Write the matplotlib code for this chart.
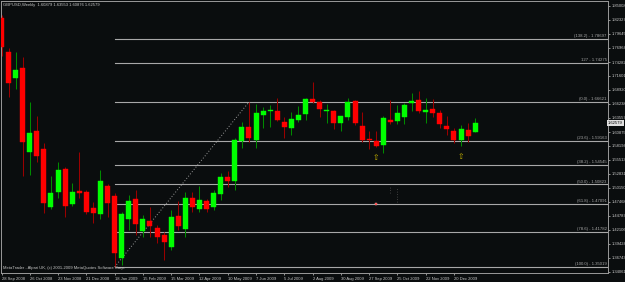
import matplotlib
matplotlib.use("Agg")
import matplotlib.pyplot as plt
import matplotlib.transforms as mtransforms
from matplotlib.patches import Rectangle

# ---------------- data (weekly GBPUSD candles) ----------------
opens = [1.8271, 1.7620, 1.7122, 1.7313, 1.5704, 1.6107, 1.5762, 1.4651, 1.4938, 1.5379,
         1.4708, 1.4957, 1.4938, 1.4632, 1.4517, 1.5053, 1.4862, 1.3674, 1.4421, 1.4804,
         1.4191, 1.4383, 1.4249, 1.4115, 1.3885, 1.4479, 1.4230, 1.4823, 1.4613, 1.4766,
         1.4651, 1.4900, 1.5226, 1.5149, 1.5915, 1.6183, 1.5934, 1.6413, 1.6490, 1.6490,
         1.6279, 1.6164, 1.6317, 1.6432, 1.6720, 1.6662, 1.6490, 1.6490, 1.6260, 1.6375,
         1.6681, 1.6202, 1.5953, 1.5915, 1.5839, 1.6317, 1.6298, 1.6375, 1.6643, 1.6700,
         1.6480, 1.6528, 1.6451, 1.6202, 1.6107, 1.5934, 1.6126, 1.60879]
highs = [1.8328, 1.7696, 1.7620, 1.7524, 1.6662, 1.6394, 1.5877, 1.5245, 1.5513, 1.5417,
         1.5111, 1.5704, 1.4977, 1.4747, 1.5360, 1.5092, 1.4919, 1.4555, 1.4881, 1.4977,
         1.4498, 1.4651, 1.4306, 1.4172, 1.4594, 1.4766, 1.4938, 1.4938, 1.5053, 1.4804,
         1.4977, 1.5302, 1.5341, 1.5973, 1.6279, 1.6662, 1.6624, 1.6566, 1.6605, 1.6739,
         1.6375, 1.6471, 1.6585, 1.6739, 1.7045, 1.6700, 1.6624, 1.6509, 1.6394, 1.6739,
         1.6700, 1.6471, 1.6107, 1.6107, 1.6394, 1.6700, 1.6605, 1.6643, 1.6834, 1.6873,
         1.6739, 1.6720, 1.6509, 1.6394, 1.6164, 1.6222, 1.6260, 1.63553]
lows = [1.7543, 1.6758, 1.6911, 1.5245, 1.5264, 1.5513, 1.4536, 1.4613, 1.4823, 1.4460,
        1.4670, 1.4823, 1.4517, 1.4345, 1.4421, 1.4460, 1.3502, 1.3540, 1.4211, 1.4115,
        1.4076, 1.4076, 1.3962, 1.3636, 1.3827, 1.4211, 1.4076, 1.4555, 1.4555, 1.4555,
        1.4594, 1.4785, 1.5034, 1.4977, 1.5781, 1.5896, 1.5781, 1.6164, 1.6183, 1.6298,
        1.5973, 1.6030, 1.6279, 1.6317, 1.6643, 1.6375, 1.6260, 1.6145, 1.6107, 1.6317,
        1.6222, 1.5896, 1.5762, 1.5800, 1.5685, 1.6241, 1.6241, 1.6241, 1.6490, 1.6451,
        1.6260, 1.6375, 1.6164, 1.6030, 1.5877, 1.5819, 1.5896, 1.60876]
closes = [1.7716, 1.7026, 1.7275, 1.5896, 1.6068, 1.5628, 1.4728, 1.4919, 1.5360, 1.4670,
          1.4938, 1.4919, 1.4555, 1.4536, 1.5149, 1.4728, 1.3770, 1.4517, 1.4766, 1.4325,
          1.4421, 1.4287, 1.4076, 1.3981, 1.4460, 1.4287, 1.4823, 1.4651, 1.4785, 1.4613,
          1.4919, 1.5226, 1.5149, 1.5934, 1.6183, 1.5973, 1.6451, 1.6490, 1.6509, 1.6317,
          1.6183, 1.6336, 1.6413, 1.6720, 1.6662, 1.6528, 1.6509, 1.6260, 1.6394, 1.6662,
          1.6260, 1.5934, 1.5934, 1.5819, 1.6356, 1.6279, 1.6451, 1.6605, 1.6681, 1.6490,
          1.6500, 1.6451, 1.6241, 1.6145, 1.5934, 1.6145, 1.6011, 1.62579]

date_labels = ["28 Sep 2008", "26 Oct 2008", "23 Nov 2008", "21 Dec 2008", "18 Jan 2009",
               "15 Feb 2009", "15 Mar 2009", "12 Apr 2009", "10 May 2009", "7 Jun 2009",
               "5 Jul 2009", "2 Aug 2009", "30 Aug 2009", "27 Sep 2009", "25 Oct 2009",
               "22 Nov 2009", "20 Dec 2009"]
date_label_bars = [0, 4, 8, 12, 16, 20, 24, 28, 32, 36, 40, 44, 48, 52, 56, 60, 64]

price_ticks = [1.85008, 1.82327, 1.79645, 1.76964, 1.74282, 1.71601, 1.68920, 1.66238,
               1.63557, 1.60875, 1.58194, 1.55513, 1.52831, 1.50150, 1.47468, 1.44787,
               1.42106, 1.39424, 1.36743, 1.34061]

fib_prices = [1.78697, 1.74082, 1.66621, 1.59163, 1.54545, 1.50823, 1.47091, 1.41782, 1.35019]
fib_labels = ["(138.2) - 1.78697", "127 - 1.74275", "(0.0) - 1.66621", "(23.6) - 1.59163",
              "(38.2) - 1.54545", "(50.0) - 1.50823", "(61.8) - 1.47091", "(78.6) - 1.41782",
              "(100.0) - 1.35019"]
fib_start_bar = 16
trend_bars = [16, 35]
trend_prices = [1.35019, 1.66621]

arrow_bars = [53, 65]
arrow_prices = [1.5590, 1.5609]
red_mark_bar = [53]
red_mark_price = [1.4708]
dot_bars = [55, 56]
dot_top = [1.5034, 1.5034]
dot_bottom = [1.4919, 1.4747]

title_text = "GBPUSD,Weekly  1.60879 1.63553 1.60876 1.62579"
footer_text = "MetaTrader - Alpari UK, (c) 2001-2009 MetaQuotes Software Corp."
current_price = 1.62579

# ---------------- styling ----------------
BG = "#0a0d0e"
GRID = "#a8a8a8"
TXT = "#c8c8c8"
UP_BODY, UP_WICK = "#00ff00", "#008a00"
DN_BODY, DN_WICK = "#ff0000", "#9a0000"
FONT = "Liberation Sans"

W, H = 625, 282
fig = plt.figure(figsize=(W / 100, H / 100), dpi=100, facecolor=BG)
ax = fig.add_axes([1 / W, 1 - 273 / H, 607 / W, 272 / H], facecolor=BG)

px_per_bar = 7.07
ax.set_xlim(-0.5 / px_per_bar, (608 - 1.5) / px_per_bar)
price_per_px = 0.0019153
ax.set_ylim(1.86157 - 273 * price_per_px, 1.86157 - 1 * price_per_px)

# fib lines
for p, lab in zip(fib_prices, fib_labels):
    ax.plot([fib_start_bar, ax.get_xlim()[1]], [p, p], color=GRID, lw=0.8, zorder=1)
    trans = mtransforms.blended_transform_factory(ax.transAxes, ax.transData)
    ax.annotate(lab, xy=(1.0, p), xycoords=trans, xytext=(-1, 0.6), textcoords="offset points",
                ha="right", va="bottom", fontsize=3.1, color="#a8a8a8", family=FONT)

# trend (dotted) line
ax.plot(trend_bars, trend_prices, color="#9a9a9a", lw=0.7, ls=(0, (1, 2)), zorder=2)

# candles
bw = 5 / px_per_bar
for i, (o, h, l, c) in enumerate(zip(opens, highs, lows, closes)):
    up = c >= o
    body_col = UP_BODY if up else DN_BODY
    wick_col = UP_WICK if up else DN_WICK
    ax.vlines(i, l, h, color=wick_col, lw=0.75, zorder=3)
    bottom = min(o, c)
    height = max(abs(c - o), price_per_px * 0.9)
    ax.add_patch(Rectangle((i - bw / 2, bottom), bw, height, facecolor=body_col,
                           edgecolor=body_col, lw=0.3, zorder=4))

# other objects
for b, p in zip(arrow_bars, arrow_prices):
    ax.text(b, p, "\u21e7", fontsize=5.5, color="#c8b400", ha="center", va="center",
            family="DejaVu Sans", zorder=5)
ax.plot(red_mark_bar, red_mark_price, marker="s", ms=1.8, color="#ff2020",
        mec="#ffbbbb", mew=0.3, ls="none", zorder=5)
for b, t, bt in zip(dot_bars, dot_top, dot_bottom):
    ax.vlines(b, bt, t, color="#505050", lw=0.6, linestyles=(0, (1, 2)), zorder=2)

# axes styling
for s in ax.spines.values():
    s.set_color("#9a9a9a")
    s.set_linewidth(0.7)
ax.yaxis.tick_right()
ax.set_yticks(price_ticks)
ax.set_yticklabels([f"{v:.5f}" for v in price_ticks])
ax.tick_params(axis="y", colors=TXT, labelsize=3.0, length=1.5, width=0.5, pad=1)
ax.set_xticks(date_label_bars)
ax.set_xticklabels(date_labels, ha="left")
ax.tick_params(axis="x", colors=TXT, labelsize=3.0, length=1.5, width=0.5, pad=1.5)
for lbl in ax.get_xticklabels() + ax.get_yticklabels():
    lbl.set_family(FONT)

# current price label
trans = mtransforms.blended_transform_factory(ax.transAxes, ax.transData)
ax.text(1.0, current_price, f"{current_price:.5f}", transform=trans, ha="left", va="center",
        fontsize=3.0, color="#000000", family=FONT, zorder=6,
        bbox=dict(boxstyle="square,pad=0.25", facecolor="#e0e0e0", edgecolor="none"),
        clip_on=False)

fig.text(3 / W, 1 - 5 / H, title_text, fontsize=3.0, color=TXT, va="center", ha="left",
         family=FONT)
fig.text(3 / W, 1 - 268 / H, footer_text, fontsize=3.0, color=TXT, va="center", ha="left",
         family=FONT)

fig.savefig("out.png", dpi=100, facecolor=BG)
